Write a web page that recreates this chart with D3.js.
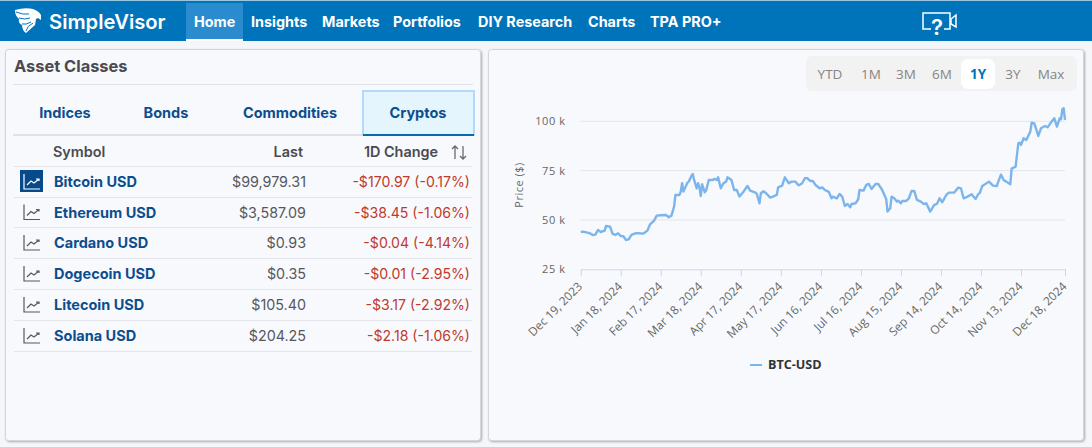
<!DOCTYPE html>
<html>
<head>
<meta charset="utf-8">
<script src="https://cdn.jsdelivr.net/npm/d3@7"></script>
<style>
  html, body { margin: 0; padding: 0; background: #f4f6f9; overflow: hidden; }
  svg { display: block; }
  text { font-family: "Inter", "Open Sans", sans-serif; }
  .chart text { font-family: "Open Sans", sans-serif; }
</style>
</head>
<body>
<div id="page"></div>
<script>
// BTC-USD close
const sessionIndex = [0,2,5,7,9,11,13,15,18,19,22,24,26,28,30,32,34,36,38,41,43,47,50,52,55,57,60,64,66,68,70,71,74,75,76,77,79,80,81,83,84,85,87,88,89,90,91,93,94,96,99,100,102,103,105,107,109,110,113,115,117,119,122,125,127,131,132,134,135,137,139,142,144,147,148,151,153,156,158,161,163,164,166,168,170,172,174,176,179,181,183,186,188,189,192,194,196,198,200,202,203,206,208,209,212,214,216,218,221,223,226,229,230,232,233,235,237,238,240,241,244,246,248,250,252,255,257,259,262,265,267,269,271,274,276,280,283,285,287,290,293,296,298,299,301,303,306,309,312,313,315,317,319,322,323,326,328,329,330,332,334,337,338,340,342,343,345,348,350,352,355,357,359,360,361,362,363];
const btcPrices = [43900,44100,43600,43250,42400,42600,44940,43900,44600,46970,46600,42900,42400,43250,41900,41730,39870,40200,42400,43250,43250,43100,44600,47800,49670,52200,52370,52540,51360,52200,56760,62670,62670,64360,68600,64360,67400,68900,69430,72300,73300,70270,66050,68600,66560,62170,68080,64000,64870,70270,70270,70780,70270,71600,66050,68600,69430,71600,70270,65200,65200,61830,64360,67230,64870,63860,63180,58450,63520,64530,63520,61320,61830,62670,66560,67400,71600,68600,69430,69430,67740,67740,68600,71120,71120,69770,69770,67740,66050,66560,65200,64200,60990,61830,60990,63180,61830,57100,58110,56420,58110,58450,60480,65200,64870,67740,68250,65710,68250,68250,65200,60480,54230,55920,61830,60990,59300,59800,58450,59630,59630,60990,64700,64700,60140,59300,58110,58450,54230,57600,58110,60990,58960,62670,63860,63860,66390,66050,60990,61830,63010,60650,63180,63520,67230,68080,69430,67400,67230,69430,72980,70270,69430,68080,76020,77030,88850,89190,88010,91390,90540,94760,99320,98990,94760,92570,96450,97640,96960,98990,101520,97300,101520,101010,106080,106590,100680];

const priceTicks = [25000, 50000, 75000, 100000];
const tickIndex = [0,30,60,90,120,150,180,210,240,270,300,330,363];
const tickLabels = ["Dec 19, 2023","Jan 18, 2024","Feb 17, 2024","Mar 18, 2024","Apr 17, 2024","May 17, 2024","Jun 16, 2024","Jul 16, 2024","Aug 15, 2024","Sep 14, 2024","Oct 14, 2024","Nov 13, 2024","Dec 18, 2024"];
const rangeButtons = ["YTD","1M","3M","6M","1Y","3Y","Max"];
const activeRange = "1Y";

const navItems = ["Home","Insights","Markets","Portfolios","DIY Research","Charts","TPA PRO+"];
const tabs = ["Indices","Bonds","Commodities","Cryptos"];
const symbols = ["Bitcoin USD","Ethereum USD","Cardano USD","Dogecoin USD","Litecoin USD","Solana USD"];
const lastPrices = ["$99,979.31","$3,587.09","$0.93","$0.35","$105.40","$204.25"];
const dayChanges = ["-$170.97 (-0.17%)","-$38.45 (-1.06%)","-$0.04 (-4.14%)","-$0.01 (-2.95%)","-$3.17 (-2.92%)","-$2.18 (-1.06%)"];

const svg = d3.select("#page").append("svg").attr("width", 1092).attr("height", 447);

// Nav bar
const nav = svg.append("g");
nav.append("rect").attr("width", 1092).attr("height", 41).attr("fill", "#0074ba");
nav.append("rect").attr("width", 1092).attr("height", 1).attr("fill", "#ffffff").attr("opacity", 0.6);
nav.append("rect").attr("x", 186).attr("y", 3).attr("width", 57).attr("height", 36).attr("fill", "#2a8ccf");
nav.append("rect").attr("x", 186).attr("y", 39).attr("width", 57).attr("height", 2).attr("fill", "#ffffff");
// logo
nav.append("path")
  .attr("d", "M15 10 Q25 7 33 9 Q39 11 41 15 L41 20 L38 18 L36 19 L35 25 L26 33 Q22 30 22 25 Q18 23 19 19 Q15 16 15 10 Z")
  .attr("fill", "#ffffff");
nav.append("path")
  .attr("d", "M16 12 Q23 15 29 14 M19 18 Q25 20 30 18 M22 24 Q26 25 31 22 M26 31 Q27 26 33 23")
  .attr("stroke", "#0074ba").attr("stroke-width", 1).attr("fill", "none");
nav.append("text").attr("x", 49).attr("y", 29).attr("fill", "#fff")
  .attr("font-size", 20.2).attr("font-weight", 600).text("SimpleVisor");

const navX = [194, 251, 322, 393, 478, 588, 650];
nav.selectAll("text.item").data(navItems).join("text").attr("class", "item")
  .attr("x", (d, i) => navX[i]).attr("y", 27)
  .attr("fill", "#fff").attr("font-size", 14.4).attr("font-weight", 700).text(d => d);

// help video icon
const help = nav.append("g").attr("fill", "none").attr("stroke", "#fff").attr("stroke-width", 1.5);
help.append("path").attr("d", "M931 29 H923 V13 H950 V29 H944");
help.append("path").attr("d", "M951 19 L956 15 V27 L951 24 Z");
nav.append("text").attr("x", 937).attr("y", 35).attr("text-anchor", "middle")
  .attr("fill", "#fff").attr("font-size", 22).attr("font-weight", 600).text("?");

// Panels
const panels = [[5.5, 49.5, 475, 391], [488.5, 49.5, 595, 391]];
svg.selectAll("rect.panel").data(panels).join("rect").attr("class", "panel")
  .attr("x", d => d[0]).attr("y", d => d[1]).attr("width", d => d[2]).attr("height", d => d[3])
  .attr("rx", 3).attr("fill", "#f8f9fc").attr("stroke", "#d4d5d9")
  .style("filter", "drop-shadow(1px 1px 1px rgba(0,0,0,0.3))");

// Left panel: title and tabs
const left = svg.append("g");
left.append("text").attr("x", 14).attr("y", 72).attr("fill", "#4a4a4f")
  .attr("font-size", 16.4).attr("font-weight", 700).text("Asset Classes");
left.append("line").attr("x1", 13).attr("x2", 473).attr("y1", 84.5).attr("y2", 84.5).attr("stroke", "#dfe1e8");
left.append("line").attr("x1", 13).attr("x2", 473).attr("y1", 135).attr("y2", 135).attr("stroke", "#dfe1e6").attr("stroke-width", 2);
left.append("rect").attr("x", 363).attr("y", 91).attr("width", 111).attr("height", 44)
  .attr("fill", "#e5f5fe").attr("stroke", "#b3dafc").attr("stroke-width", 2);
left.append("line").attr("x1", 363).attr("x2", 474).attr("y1", 135).attr("y2", 135).attr("stroke", "#0a6ab0").attr("stroke-width", 2);

const tabX = [65, 166, 290, 418];
left.selectAll("text.tab").data(tabs).join("text").attr("class", "tab")
  .attr("x", (d, i) => tabX[i]).attr("y", 118).attr("text-anchor", "middle")
  .attr("fill", "#0b4d8e").attr("font-size", 14.5).attr("font-weight", 700).text(d => d);

// Table header
const headStyle = s => s.attr("y", 157).attr("fill", "#4a4a4f").attr("font-size", 14.4).attr("font-weight", 600);
left.append("text").attr("x", 53).call(headStyle).text("Symbol");
left.append("text").attr("x", 303).attr("text-anchor", "end").call(headStyle).text("Last");
left.append("text").attr("x", 438).attr("text-anchor", "end").call(headStyle).text("1D Change");
left.append("path")
  .attr("d", "M455 159 V146 M452 149 L455 146 L458 149 M463 146 V159 M460 156 L463 159 L466 156")
  .attr("fill", "none").attr("stroke", "#666a70").attr("stroke-width", 1.3);

// Table rows
const rowLines = [166.5, 197.5, 227.5, 258.5, 289.5, 320.5, 351.5];
left.selectAll("line.row").data(rowLines).join("line").attr("class", "row")
  .attr("x1", 14).attr("x2", 472).attr("y1", d => d).attr("y2", d => d).attr("stroke", "#e3e5ea");

const rowMid = i => (rowLines[i] + rowLines[i + 1]) / 2;
const rows = left.selectAll("g.sym").data(symbols).join("g").attr("class", "sym");
rows.filter((d, i) => i === 0).append("rect")
  .attr("x", 20).attr("y", 170).attr("width", 23).attr("height", 22).attr("fill", "#064a8c");
rows.append("path")
  .attr("d", (d, i) => {
    const y = rowMid(i) - 9;
    return `M24 ${y + 1} V${y + 16} H40 M27 ${y + 12} L31 ${y + 8} L34 ${y + 10} L39 ${y + 6} M36 ${y + 6} H39 V${y + 8}`;
  })
  .attr("fill", "none").attr("stroke", (d, i) => i === 0 ? "#fff" : "#55585e").attr("stroke-width", 1.2);
rows.append("text").attr("x", 54).attr("y", (d, i) => rowMid(i) + 5)
  .attr("fill", "#0b4d8e").attr("font-size", 14.5).attr("font-weight", 700).text(d => d);
rows.append("text").attr("x", 306).attr("y", (d, i) => rowMid(i) + 5).attr("text-anchor", "end")
  .attr("fill", "#55575c").attr("font-size", 14.3).text((d, i) => lastPrices[i]);
rows.append("text").attr("x", 470).attr("y", (d, i) => rowMid(i) + 5).attr("text-anchor", "end")
  .attr("fill", "#c0392b").attr("font-size", 14.1).text((d, i) => dayChanges[i]);

// Chart
const chart = svg.append("g").attr("class", "chart");

// Range selector
const rangeX = [830, 871, 906, 942, 978, 1013, 1051];
chart.append("rect").attr("x", 806).attr("y", 56).attr("width", 271).attr("height", 35).attr("rx", 6).attr("fill", "#f2f2f2");
chart.append("rect").attr("x", 961).attr("y", 59).attr("width", 34).attr("height", 30).attr("rx", 7).attr("fill", "#ffffff");
chart.selectAll("text.range").data(rangeButtons).join("text").attr("class", "range")
  .attr("x", (d, i) => rangeX[i]).attr("y", 79).attr("text-anchor", "middle")
  .attr("font-size", 13.5)
  .attr("font-weight", d => d === activeRange ? 700 : 400)
  .attr("fill", d => d === activeRange ? "#0074ba" : "#858585")
  .text(d => d);

const x = d3.scaleLinear().domain([0, 363]).range([580.7, 1065]);
const y = d3.scaleLinear().domain([25000, 100000]).range([269.3, 121.3]);

// Y axis and grid
const yAxis = chart.append("g").attr("transform", "translate(580.7,0)")
  .call(d3.axisLeft(y).tickValues(priceTicks).tickSize(0).tickPadding(15).tickFormat(d => `${d / 1000} k`));
yAxis.select(".domain").remove();
yAxis.selectAll("text").attr("font-size", 11).attr("fill", "#666666").style("letter-spacing", "0.6px");
chart.selectAll("line.grid").data(priceTicks.slice(1)).join("line").attr("class", "grid")
  .attr("x1", x(0)).attr("x2", x(363)).attr("y1", d => y(d)).attr("y2", d => y(d))
  .attr("stroke", "#e3e5ea");

chart.append("text").attr("transform", "translate(523,185) rotate(-90)").attr("text-anchor", "middle")
  .attr("font-size", 11).attr("fill", "#666666").style("letter-spacing", "0.5px").text("Price ($)");

// X axis
const xAxis = chart.append("g").attr("transform", "translate(0,269.3)")
  .call(d3.axisBottom(x).tickValues(tickIndex).tickSize(7).tickSizeOuter(0)
    .tickFormat((d, i) => tickLabels[i]));
xAxis.select(".domain").attr("stroke", "#ccd6eb");
xAxis.selectAll("line").attr("stroke", "#ccd6eb");
xAxis.selectAll("text")
  .attr("font-size", 11.8).attr("fill", "#666666")
  .attr("text-anchor", "end").attr("x", 0).attr("y", 0).attr("dy", "0.35em")
  .attr("transform", "translate(-1,15) rotate(-45)");

// Price line
const line = d3.line().x((d, i) => x(sessionIndex[i])).y(d => y(d));
chart.append("path").datum(btcPrices)
  .attr("fill", "none").attr("stroke", "#7cb5ec").attr("stroke-width", 2.4)
  .attr("stroke-linejoin", "round").attr("d", line);

// Legend
chart.append("line").attr("x1", 750).attr("x2", 762).attr("y1", 365).attr("y2", 365)
  .attr("stroke", "#7cb5ec").attr("stroke-width", 2);
chart.append("text").attr("x", 768).attr("y", 369).attr("font-size", 12.6).attr("font-weight", 700)
  .attr("fill", "#333333").text("BTC-USD");
</script>
</body>
</html>
